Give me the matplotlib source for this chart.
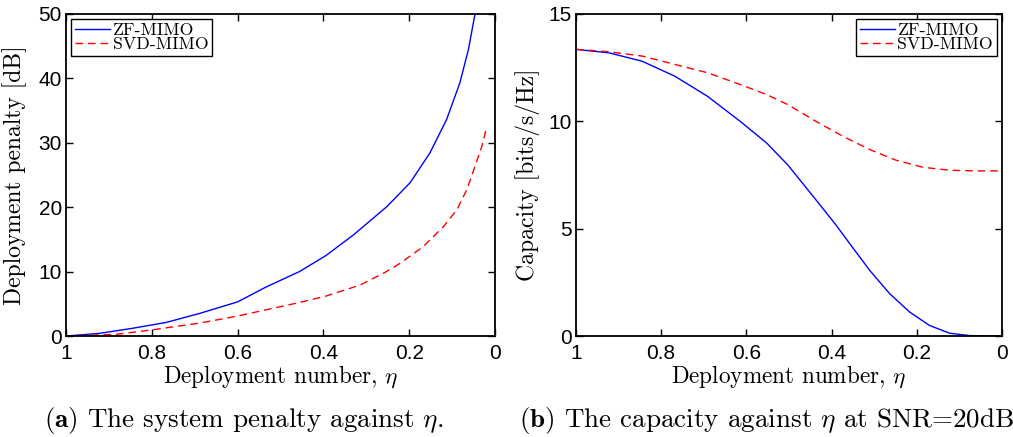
import matplotlib
matplotlib.use("Agg")
import matplotlib.pyplot as plt

# --- Data ---
# (a) deployment penalty [dB] against eta
PEN_ETA_ZF = [1.0, 0.922, 0.845, 0.767, 0.689, 0.6, 0.534, 0.456, 0.394,
              0.33, 0.252, 0.198, 0.152, 0.113, 0.082, 0.062, 0.047, 0.04]
PEN_ZF = [0.0, 0.41, 1.2, 2.1, 3.5, 5.3, 7.6, 10.0, 12.5,
          15.7, 20.1, 23.8, 28.4, 33.6, 39.3, 44.5, 49.9, 53.0]
PEN_ETA_SVD = [1.0, 0.883, 0.8, 0.689, 0.6, 0.518, 0.456, 0.394, 0.315,
               0.256, 0.221, 0.167, 0.12, 0.089, 0.066, 0.047, 0.031, 0.021]
PEN_SVD = [0.0, 0.26, 0.95, 2.0, 3.1, 4.3, 5.2, 6.2, 7.9,
           9.9, 11.3, 13.9, 17.0, 19.6, 22.7, 26.3, 29.4, 32.0]

# (b) capacity [bits/s/Hz] at SNR=20dB against eta
CAP_ETA_ZF = [1.0, 0.923, 0.845, 0.768, 0.691, 0.614, 0.552, 0.502, 0.437,
              0.39, 0.358, 0.311, 0.264, 0.217, 0.17, 0.123, 0.076, 0.0]
CAP_ZF = [13.35, 13.19, 12.8, 12.1, 11.16, 9.99, 8.98, 7.95, 6.35,
          5.18, 4.32, 3.07, 1.98, 1.12, 0.49, 0.13, 0.02, 0.0]
CAP_ETA_SVD = [1.0, 0.923, 0.845, 0.768, 0.691, 0.614, 0.552, 0.502, 0.437,
               0.374, 0.311, 0.249, 0.186, 0.123, 0.06, 0.0]
CAP_SVD = [13.35, 13.24, 13.04, 12.65, 12.26, 11.71, 11.24, 10.77, 10.0,
           9.31, 8.69, 8.19, 7.86, 7.72, 7.69, 7.69]

LABELS = ["ZF-MIMO", "SVD-MIMO"]
X_TICKS = [1, 0.8, 0.6, 0.4, 0.2, 0]
X_TICK_LABELS = ["1", "0.8", "0.6", "0.4", "0.2", "0"]

plt.rcParams["mathtext.fontset"] = "cm"
plt.rcParams["axes.linewidth"] = 1.3

TICK_FONT = "Liberation Sans"
SERIF = "cmr10"
DASH = (0, (5.5, 3.5))


def style_axes(ax, yticks):
    ax.set_xlim(1, 0)
    ax.set_xticks(X_TICKS)
    ax.set_xticklabels(X_TICK_LABELS, family=TICK_FONT, fontsize=15)
    ax.set_yticks(yticks)
    ax.set_yticklabels([str(t) for t in yticks], family=TICK_FONT, fontsize=15)
    ax.tick_params(direction="in", top=True, right=True, length=5,
                   width=1.0)
    ax.tick_params(axis="x", pad=6)
    ax.tick_params(axis="y", pad=3)
    ax.set_xlabel(r"Deployment number, $\eta$", family=SERIF, fontsize=16.7,
                  labelpad=0)


fig = plt.figure(figsize=(10.13, 4.37), dpi=100)
ax1 = fig.add_axes([0.0652, 0.2311, 0.4235, 0.737])
ax2 = fig.add_axes([0.5686, 0.2311, 0.4205, 0.737])

ax1.plot(PEN_ETA_ZF, PEN_ZF, color="#0000ff", lw=1.0, label=LABELS[0])
ax1.plot(PEN_ETA_SVD, PEN_SVD, color="#ff0000", lw=1.0, ls=DASH,
         label=LABELS[1])
ax1.set_ylim(0, 50)
style_axes(ax1, [0, 10, 20, 30, 40, 50])
ax1.set_ylabel("Deployment penalty [dB]", family=SERIF, fontsize=17)
ax1.yaxis.set_label_coords(-0.09, 0.5)

ax2.plot(CAP_ETA_ZF, CAP_ZF, color="#0000ff", lw=1.0, label=LABELS[0])
ax2.plot(CAP_ETA_SVD, CAP_SVD, color="#ff0000", lw=1.0, ls=DASH,
         label=LABELS[1])
ax2.set_ylim(0, 15)
style_axes(ax2, [0, 5, 10, 15])
ax2.set_ylabel("Capacity [bits/s/Hz]", family=SERIF, fontsize=17)
ax2.yaxis.set_label_coords(-0.084, 0.5)

for ax, loc in [(ax1, "upper left"), (ax2, "upper right")]:
    leg = ax.legend(loc=loc, prop={"family": SERIF, "size": 12.8},
                    fancybox=False, framealpha=1, edgecolor="black",
                    handlelength=2.0, handletextpad=0.12, labelspacing=-0.08,
                    borderpad=0.2, borderaxespad=0.3)
    leg.get_frame().set_linewidth(1.0)

fig.text(0.241, 0.022, r"$\mathbf{(a)}$ The system penalty against $\eta$.",
         family=SERIF, fontsize=19.5, ha="center", va="baseline")
fig.text(0.757, 0.022, r"$\mathbf{(b)}$ The capacity against $\eta$ at SNR=20dB",
         family=SERIF, fontsize=19.5, ha="center", va="baseline")

fig.savefig("out.png", dpi=100)
